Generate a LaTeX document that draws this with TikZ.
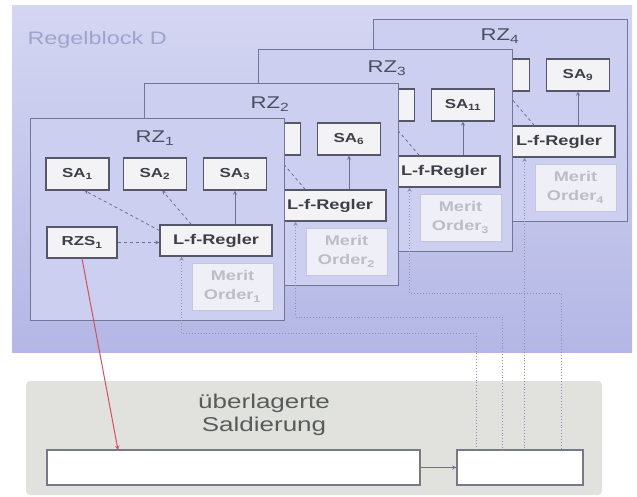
\documentclass[tikz,border=0pt]{standalone}
\usepackage{fontspec}
\setmainfont{Liberation Sans}[FakeStretch=1.3]
\usetikzlibrary{calc}
\definecolor{bgtop}{HTML}{D4D6F2}
\definecolor{bgbot}{HTML}{B4B7E5}
\definecolor{framefill}{HTML}{CDCFF1}
\definecolor{framecol}{HTML}{727596}
\definecolor{boxline}{HTML}{55566A}
\definecolor{boxfill}{HTML}{F3F3F6}
\definecolor{boxtxt}{HTML}{3E3E48}
\definecolor{rzcol}{HTML}{4C4E62}
\definecolor{blocktxt}{HTML}{A0A3CC}
\definecolor{mofill}{HTML}{EFEFF7}
\definecolor{moline}{HTML}{C4C6DC}
\definecolor{motxt}{HTML}{BDBDC6}
\definecolor{arrcol}{HTML}{6E7090}
\definecolor{dotcol}{HTML}{8E90AE}
\definecolor{saldbg}{HTML}{E1E2DD}
\definecolor{saltxt}{HTML}{585C58}
\definecolor{redcol}{HTML}{D5505E}
\begin{document}
\begin{tikzpicture}[x=1pt, y=-1pt,
  rzframe/.style={draw=framecol, line width=1.1pt, fill=framefill, anchor=north west,
    minimum width=254pt, minimum height=202pt, inner sep=0pt},
  rzlbl/.style={font=\fontsize{17}{17}\selectfont, text=rzcol},
  sabox/.style={draw=boxline, line width=1.1pt, fill=boxfill, minimum width=63pt,
    minimum height=32pt, inner sep=0pt, font=\fontsize{13}{13}\selectfont\bfseries, text=boxtxt},
  rzsbox/.style={sabox, minimum width=70pt, minimum height=31pt},
  lfbox/.style={sabox, minimum width=112pt, minimum height=31pt, font=\fontsize{14}{14}\selectfont\bfseries},
  mobox/.style={draw=moline, line width=0.7pt, fill=mofill, minimum width=81pt, minimum height=47pt,
    inner sep=0pt, align=center, text=motxt, font=\fontsize{14}{19}\selectfont\bfseries},
  flow/.style={->, >=stealth, draw=arrcol, line width=0.9pt},
  data/.style={->, >=stealth, dashed, draw=arrcol, line width=0.8pt},
  mdata/.style={<-, >=stealth, dotted, draw=dotcol, line width=0.9pt},
  salbox/.style={draw=boxline!80, line width=1.1pt, fill=white, minimum height=35pt, inner sep=0pt}]
\useasboundingbox (0,0) rectangle (637,496);
\shade[top color=bgtop, bottom color=bgbot] (12,5) rectangle (632,352);
\node[font=\fontsize{18}{18}\selectfont, text=blocktxt, anchor=west] (blk) at (24,40) {Regelblock D};
% RZ 4
\begin{scope}[shift={(373,19)}]
\node[rzframe] (f4) at (0,0) {};
\node[rzlbl] (t4) at (127,17) {RZ\textsubscript{4}};
\node[sabox] (s42) at (125,56) {};
\node[sabox] (s43) at (205,56) {SA\textsubscript{9}};
\node[lfbox] (lf4) at (186,122.5) {L-f-Regler};
\node[mobox] (mo4) at (202.5,168.5) {Merit\\Order\textsubscript{4}};
\end{scope}
\draw[data] (lf4.147) -- (s42.-66);
\draw[flow] (lf4.north -| s43.south) -- (s43.south);
% RZ 3
\begin{scope}[shift={(258,49)}]
\node[rzframe] (f3) at (0,0) {};
\node[rzlbl] (t3) at (129,19) {RZ\textsubscript{3}};
\node[sabox] (s32) at (125,56) {};
\node[sabox] (s33) at (205,56) {SA\textsubscript{11}};
\node[lfbox] (lf3) at (186,122.5) {L-f-Regler};
\node[mobox] (mo3) at (202.5,168.5) {Merit\\Order\textsubscript{3}};
\end{scope}
\draw[data] (lf3.147) -- (s32.-66);
\draw[flow] (lf3.north -| s33.south) -- (s33.south);
% RZ 2
\begin{scope}[shift={(144,83)}]
\node[rzframe] (f2) at (0,0) {};
\node[rzlbl] (t2) at (126,21) {RZ\textsubscript{2}};
\node[sabox] (s22) at (125,56) {};
\node[sabox] (s23) at (205,56) {SA\textsubscript{6}};
\node[lfbox] (lf2) at (186,122.5) {L-f-Regler};
\node[mobox] (mo2) at (202.5,168.5) {Merit\\Order\textsubscript{2}};
\end{scope}
\draw[data] (lf2.147) -- (s22.-66);
\draw[flow] (lf2.north -| s23.south) -- (s23.south);
% RZ 1
\begin{scope}[shift={(30,118)}]
\node[rzframe] (f1) at (0,0) {};
\node[rzlbl] (t1) at (125,20) {RZ\textsubscript{1}};
\node[sabox] (s11) at (47.5,56) {SA\textsubscript{1}};
\node[sabox] (s12) at (125,56) {SA\textsubscript{2}};
\node[sabox] (s13) at (205,56) {SA\textsubscript{3}};
\node[rzsbox] (rzs1) at (52,124.5) {RZS\textsubscript{1}};
\node[lfbox] (lf1) at (186,122.5) {L-f-Regler};
\node[mobox] (mo1) at (202.5,168.5) {Merit\\Order\textsubscript{1}};
\end{scope}
\draw[data] (lf1.170) -- (s11.-67);
\draw[data] (lf1.147) -- (s12.-66);
\draw[flow] (lf1.north -| s13.south) -- (s13.south);
\draw[data] (rzs1.east) -- (rzs1.east -| lf1.west);
% Saldierung
\fill[saldbg, rounded corners=4pt] (26,381) rectangle (602,495);
\node[text=saltxt, font=\fontsize{20}{23}\selectfont, align=center] (tsal) at (264,415) {überlagerte\\Saldierung};
\node[salbox, minimum width=373pt] (sal) at (233.5,467.5) {};
\node[salbox, minimum width=126pt] (net) at (520,467.5) {};
\draw[flow] (sal) -- (net);
\coordinate (in1) at (476,450);
\coordinate (in2) at (502,450);
\coordinate (in3) at (561,450);
\draw[mdata] (lf1.205) |- (476,333) -- (in1);
\draw[mdata] (lf2.205) |- (502,317) -- (in2);
\draw[mdata] (lf3.205) |- (561,293) -- (in3);
\draw[mdata] (lf4.205) -- (lf4.205 |- net.north);
\coordinate (red) at (118,450);
\draw[->, >=stealth, draw=redcol, line width=1pt] (rzs1.south) -- (red);
\end{tikzpicture}
\end{document}
